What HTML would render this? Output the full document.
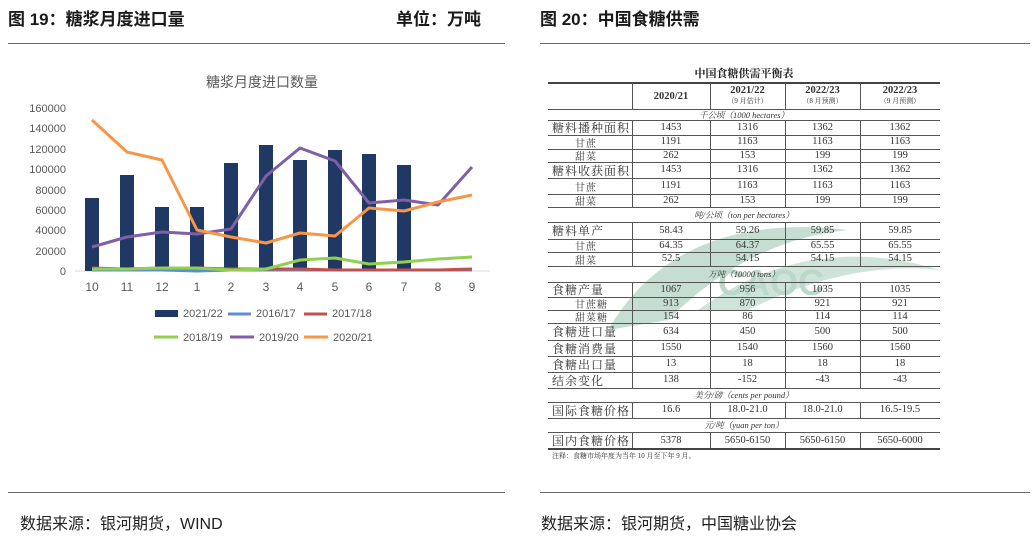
<!DOCTYPE html><html><head><meta charset="utf-8"><style>
body{margin:0;width:1034px;height:547px;background:#fff;position:relative;overflow:hidden;font-family:"Liberation Sans","Noto Sans CJK SC",sans-serif;}
.a{position:absolute;white-space:nowrap}
.h{font-weight:bold;font-size:17px;color:#1a1a1a;top:5px}
.src{font-size:16px;color:#222;top:510px}
.t{position:absolute;display:flex;align-items:center;font-family:"Liberation Serif","Noto Serif CJK SC",serif;font-size:10px;color:#333;}
.r{position:absolute;left:548px;width:392px;border-bottom:1px solid #555}
.c{position:absolute;display:flex;flex-direction:column;align-items:center;justify-content:center;text-align:center;font-family:"Liberation Serif","Noto Serif CJK SC",serif;font-size:10.5px;color:#333}
</style></head><body>
<div class="a h" style="left:8px">图 19：糖浆月度进口量</div>
<div class="a h" style="left:396px">单位：万吨</div>
<div class="a h" style="left:540px">图 20：中国食糖供需</div>
<div class="a" style="left:8px;top:43px;width:497px;border-top:1px solid #666"></div>
<div class="a" style="left:540px;top:43px;width:490px;border-top:1px solid #666"></div>
<div class="a" style="left:8px;top:492px;width:497px;border-top:1px solid #666"></div>
<div class="a" style="left:540px;top:492px;width:490px;border-top:1px solid #666"></div>
<div class="a src" style="left:20px">数据来源：银河期货，WIND</div>
<div class="a src" style="left:541px">数据来源：银河期货，中国糖业协会</div>

<svg class="a" style="left:0;top:0" width="520" height="360" font-family="Liberation Sans, Noto Sans CJK SC, sans-serif">
<text x="262" y="87" font-size="14" fill="#595959" text-anchor="middle">糖浆月度进口数量</text>
<g font-size="11" fill="#595959" text-anchor="end">
<text x="66" y="112">160000</text><text x="66" y="132">140000</text><text x="66" y="153">120000</text><text x="66" y="173">100000</text><text x="66" y="194">80000</text><text x="66" y="214">60000</text><text x="66" y="234">40000</text><text x="66" y="255">20000</text><text x="66" y="275">0</text>
</g>
<line x1="75" y1="271" x2="490" y2="271" stroke="#d9d9d9"/>
<g font-size="12" fill="#595959" text-anchor="middle">
<text x="92" y="291">10</text><text x="127" y="291">11</text><text x="162" y="291">12</text><text x="197" y="291">1</text><text x="231" y="291">2</text><text x="266" y="291">3</text><text x="300" y="291">4</text><text x="335" y="291">5</text><text x="369" y="291">6</text><text x="404" y="291">7</text><text x="438" y="291">8</text><text x="472" y="291">9</text>
</g>
<g fill="#203864">
<rect x="85" y="198" width="14" height="73"/><rect x="120" y="175" width="14" height="96"/><rect x="155" y="207" width="14" height="64"/><rect x="190" y="207" width="14" height="64"/><rect x="224" y="163" width="14" height="108"/><rect x="259" y="145" width="14" height="126"/><rect x="293" y="160" width="14" height="111"/><rect x="328" y="150" width="14" height="121"/><rect x="362" y="154" width="14" height="117"/><rect x="397" y="165" width="14" height="106"/>
</g>
<g fill="none" stroke-width="3" stroke-linejoin="round">
<polyline stroke="#5b8fd0" points="92,270 127,270 162,270 197,271 231,270 266,270 300,270 335,270 369,270 404,270 438,270 472,270"/>
<polyline stroke="#c0504d" points="92,268 127,269 162,268 197,268 231,269 266,269 300,269 335,270 369,270 404,270 438,270 472,269"/>
<polyline stroke="#92d050" points="92,269 127,269 162,268 197,268 231,270 266,269 300,260 335,258 369,264 404,262 438,259 472,257"/>
<polyline stroke="#7f5fa8" points="92,247 127,237 162,232 197,234 231,229 266,176 300,148 335,161 369,203 404,200 438,205 472,167"/>
<polyline stroke="#f79646" points="92,120 127,152 162,160 197,230 231,237 266,243 300,233 335,236 369,208 404,211 438,202 472,195"/>
</g>
<g font-size="11" fill="#595959">
<rect x="155" y="310" width="23" height="7" fill="#203864"/><text x="183" y="317">2021/22</text>
<line x1="228" y1="314" x2="251" y2="314" stroke="#5b8fd0" stroke-width="3"/><text x="256" y="317">2016/17</text>
<line x1="304" y1="314" x2="327" y2="314" stroke="#c0504d" stroke-width="3"/><text x="332" y="317">2017/18</text>
<line x1="154" y1="337" x2="178" y2="337" stroke="#92d050" stroke-width="3"/><text x="183" y="341">2018/19</text>
<line x1="230" y1="337" x2="254" y2="337" stroke="#7f5fa8" stroke-width="3"/><text x="259" y="341">2019/20</text>
<line x1="304" y1="337" x2="328" y2="337" stroke="#f79646" stroke-width="3"/><text x="333" y="341">2020/21</text>
</g>
</svg>

<svg class="a" style="left:548px;top:200px" width="392" height="140">
<path d="M60 130 Q130 10 300 30 Q200 40 120 120 Z" fill="#c6ded2"/>
<path d="M150 110 Q260 30 392 70 Q300 60 200 110 Z" fill="#cfe4d9"/>
<text x="170" y="95" font-size="36" font-weight="bold" fill="#bcd8ca" font-family="Liberation Sans">CAOC</text>
</svg>

<div class="a" style="left:548px;top:65px;width:392px;text-align:center;font-weight:bold;font-size:11px;color:#222;font-family:'Liberation Serif','Noto Serif CJK SC',serif">中国食糖供需平衡表</div>
<div class="a" style="left:548px;top:82px;width:392px;border-top:2px solid #444"></div>
<div id="tbl"></div>
<script>
var rows=[
[109,'', ['<b>2020/21</b>','<b>2021/22</b><span style="font-size:7px">（9 月估计）</span>','<b>2022/23</b><span style="font-size:7px">（8 月预测）</span>','<b>2022/23</b><span style="font-size:7px">（9 月预测）</span>'],83],
[120,'U','千公顷（1000 hectares）'],
[135,'糖料播种面积',['1453','1316','1362','1362']],
[149,'甘蔗',['1191','1163','1163','1163'],0,1],
[162,'甜菜',['262','153','199','199'],0,1],
[178,'糖料收获面积',['1453','1316','1362','1362']],
[194,'甘蔗',['1191','1163','1163','1163'],0,1],
[207,'甜菜',['262','153','199','199'],0,1],
[222,'U','吨/公顷（ton per hectares）'],
[239,'糖料单产',['58.43','59.26','59.85','59.85']],
[252,'甘蔗',['64.35','64.37','65.55','65.55'],0,1],
[266,'甜菜',['52.5','54.15','54.15','54.15'],0,1],
[282,'U','万吨（10000 tons）'],
[297,'食糖产量',['1067','956','1035','1035']],
[310,'甘蔗糖',['913','870','921','921'],0,1],
[323,'甜菜糖',['154','86','114','114'],0,1],
[340,'食糖进口量',['634','450','500','500']],
[356,'食糖消费量',['1550','1540','1560','1560']],
[372,'食糖出口量',['13','18','18','18']],
[388,'结余变化',['138','-152','-43','-43']],
[402,'U','美分/磅（cents per pound）'],
[418,'国际食糖价格',['16.6','18.0-21.0','18.0-21.0','16.5-19.5']],
[432,'U','元/吨（yuan per ton）'],
[449,'国内食糖价格',['5378','5650-6150','5650-6150','5650-6000']]];
var h='',prev=83,xs=[632,710,785,860,940];
rows.forEach(function(r){var b=r[0],t=prev,ht=b-t;
 h+='<div class="r" style="top:'+t+'px;height:'+ht+'px"></div>';
 if(r[1]=='U'){h+='<div class="c" style="left:548px;width:392px;top:'+t+'px;height:'+ht+'px;font-style:italic;font-size:8.5px">'+r[2]+'</div>';}
 else{
  h+='<div class="t" style="left:'+(r[4]?575:552)+'px;top:'+t+'px;height:'+ht+'px;font-size:'+(r[4]?10:12)+'px;letter-spacing:1px">'+r[1]+'</div>';
  for(var i=0;i<4;i++){h+='<div class="a" style="left:'+xs[i]+'px;top:'+t+'px;height:'+ht+'px;border-left:1px solid #555"></div>';
   h+='<div class="c" style="left:'+xs[i]+'px;width:'+(xs[i+1]-xs[i])+'px;top:'+t+'px;height:'+ht+'px;line-height:'+(r[3]?'11px':'12px')+'">'+r[2][i]+'</div>';}
 }
 prev=b;});
h+='<div class="a" style="left:548px;top:448px;width:392px;border-top:2px solid #444"></div>';
h+='<div class="t" style="left:552px;top:451px;font-size:7px">注释：食糖市场年度为当年 10 月至下年 9 月。</div>';
document.getElementById('tbl').innerHTML=h;
</script>
</body></html>
